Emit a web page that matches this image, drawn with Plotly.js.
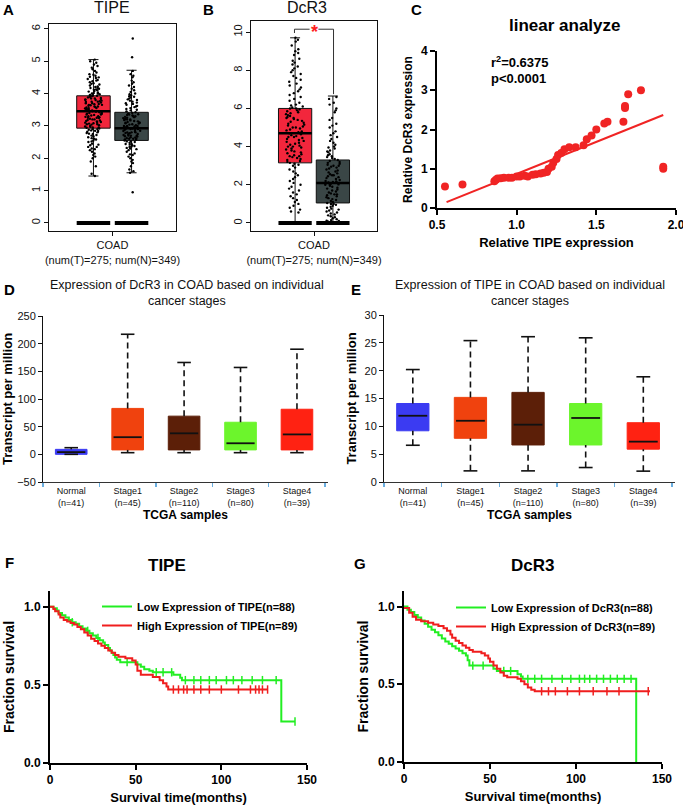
<!DOCTYPE html>
<html><head><meta charset="utf-8">
<script src="https://cdn.plot.ly/plotly-3.0.1.min.js"></script>
<style>html,body{margin:0;padding:0;background:#fff}#chart{width:683px;height:806px}</style>
</head><body><div id="chart"></div>
<script>
// ---------- DATA ----------
const coadCat = ['COAD'];
const coadLabel = ['COAD<br>(num(T)=275; num(N)=349)'];
// Panel A (TIPE) box stats [tumor, normal]
const aQ1 = [2.93, 2.55], aMed = [3.45, 2.93], aQ3 = [3.93, 3.42], aLo = [1.45, 1.55], aHi = [5.05, 4.72];
const aTumorPts = [1.45,1.52,1.9,2.05,2.1,2.2,2.25,2.3,2.35,2.4,2.45,2.5,2.52,2.55,2.6,2.62,2.65,2.7,2.72,2.75,2.78,2.8,2.82,2.85,2.88,2.9,2.92,2.95,2.97,3.0,3.02,3.05,3.07,3.1,3.12,3.15,3.17,3.2,3.22,3.25,3.27,3.3,3.32,3.35,3.37,3.4,3.42,3.45,3.47,3.5,3.52,3.55,3.57,3.6,3.62,3.65,3.67,3.7,3.72,3.75,3.78,3.8,3.83,3.85,3.88,3.9,3.93,3.96,4.0,4.03,4.06,4.1,4.13,4.17,4.2,4.25,4.3,4.35,4.4,4.45,4.5,4.55,4.6,4.7,4.8,4.9,5.0,5.05,3.1,3.3,3.5,3.7,2.9,3.6,3.8,4.0,3.4,3.2,
  2.15,2.28,2.42,2.58,2.68,2.76,2.84,2.86,2.94,2.98,3.04,3.08,3.14,3.18,3.24,3.28,3.34,3.38,3.44,3.48,3.54,3.58,3.64,3.68,3.74,3.76,3.82,3.86,3.92,3.94,3.98,4.02,4.08,4.12,4.18,4.22,4.28,4.32,4.38,4.42,4.48,4.52,4.58,4.65,4.75,4.85,4.95,1.75,2.0,2.35,3.55,3.65,3.85,4.15,3.25,3.35,3.05,2.95,3.75,3.95];
const aNormalPts = [0.95,1.55,1.6,1.75,1.85,1.95,2.0,2.05,2.1,2.15,2.2,2.25,2.3,2.32,2.35,2.38,2.4,2.42,2.45,2.48,2.5,2.52,2.55,2.57,2.6,2.62,2.65,2.67,2.7,2.72,2.75,2.77,2.8,2.82,2.85,2.87,2.9,2.92,2.95,2.97,3.0,3.02,3.05,3.07,3.1,3.12,3.15,3.17,3.2,3.22,3.25,3.27,3.3,3.32,3.35,3.38,3.4,3.45,3.5,3.55,3.6,3.65,3.7,3.75,3.8,3.85,3.9,3.95,4.0,4.1,4.2,4.3,4.4,4.55,4.7,5.12,5.7,2.8,2.9,3.0,3.1,3.2,2.6,2.7,
  1.65,1.9,2.12,2.28,2.36,2.44,2.52,2.58,2.64,2.68,2.74,2.78,2.84,2.88,2.94,2.98,3.04,3.08,3.14,3.18,3.24,3.28,3.34,3.36,3.42,3.48,3.52,3.58,3.62,3.68,3.72,3.78,3.82,3.88,3.92,3.98,4.05,4.15,4.25,4.35,4.5,4.6,2.9,3.0,3.1,2.8,3.2,2.7,3.3,2.6];
// Panel B (DcR3) box stats [tumor, normal]
const bQ1 = [3.15, 1.05], bMed = [4.7, 2.1], bQ3 = [6.0, 3.3], bLo = [0, 0], bHi = [9.7, 6.65];
const bTumorPts = [0.55,0.7,0.9,1.1,1.3,1.5,1.6,1.8,2.0,2.1,2.3,2.4,2.6,2.7,2.9,3.0,3.1,3.2,3.3,3.4,3.5,3.6,3.7,3.8,3.9,4.0,4.1,4.2,4.3,4.4,4.5,4.6,4.7,4.8,4.9,5.0,5.1,5.2,5.3,5.4,5.5,5.6,5.7,5.8,5.9,6.0,6.1,6.2,6.3,6.5,6.6,6.8,7.0,7.2,7.4,7.6,7.8,8.0,8.2,8.4,8.6,8.8,9.0,9.3,9.5,9.7,4.25,4.75,5.25,5.75,3.75,3.25,
  0.6,0.8,1.0,1.2,1.4,1.7,1.9,2.2,2.5,2.8,3.05,3.15,3.35,3.45,3.55,3.65,3.85,3.95,4.05,4.15,4.35,4.45,4.55,4.65,4.85,4.95,5.05,5.15,5.35,5.45,5.55,5.65,5.85,5.95,6.05,6.15,6.4,6.7,6.9,7.1,7.3,7.5,7.7,7.9,8.1,8.3,8.5,8.9,9.1,9.6,4.0,4.5,5.0,5.5,3.5,6.0];
const bNormalPts = [0.05,0.1,0.15,0.2,0.3,0.4,0.5,0.6,0.7,0.8,0.9,1.0,1.05,1.1,1.2,1.3,1.4,1.5,1.6,1.7,1.8,1.9,2.0,2.05,2.1,2.15,2.2,2.3,2.4,2.5,2.6,2.7,2.8,2.9,3.0,3.1,3.2,3.3,3.4,3.5,3.6,3.7,3.8,3.9,4.0,4.1,4.2,4.4,4.6,4.8,5.0,5.2,5.5,5.8,6.0,6.3,6.6,1.25,1.75,2.25,2.75,3.25,
  0.08,0.12,0.25,0.35,0.45,0.55,0.65,0.75,0.85,0.95,1.15,1.35,1.45,1.55,1.65,1.85,1.95,2.02,2.08,2.12,2.18,2.35,2.45,2.55,2.65,2.85,2.95,3.05,3.15,3.35,3.45,3.55,3.75,3.95,4.3,4.5,4.7,5.1,5.4,5.9,6.2,6.5,1.0,1.5,2.0,2.5,3.0];
// Panel C scatter
const cX = [0.55,0.66,0.86,0.87,0.88,0.9,0.92,0.95,0.97,1.0,1.02,1.05,1.07,1.1,1.12,1.15,1.17,1.19,1.2,1.22,1.23,1.25,1.26,1.28,1.3,1.33,1.37,1.42,1.44,1.47,1.5,1.55,1.57,1.67,1.68,1.68,1.7,1.78,1.92,1.92];
const cY = [0.55,0.6,0.68,0.72,0.75,0.76,0.77,0.77,0.77,0.8,0.8,0.82,0.8,0.85,0.86,0.88,0.9,0.92,1.0,1.05,1.15,1.25,1.35,1.4,1.5,1.55,1.55,1.6,1.75,1.85,2.0,2.15,2.2,2.2,2.55,2.6,2.9,3.0,1.0,1.05];
const cFitX = [0.56, 1.92], cFitY = [0.15, 2.37];
// Panels D/E stage boxes
const stages = ['Normal','Stage1','Stage2','Stage3','Stage4'];
const stageN = ['(n=41)','(n=45)','(n=110)','(n=80)','(n=39)'];
const dQ1 = [0, 8, 8, 8, 8], dMed = [4, 31, 38, 20, 36], dQ3 = [9, 83, 69, 58, 81.5], dLo = [0, 3, 3, 3, 3], dHi = [12, 217, 166, 157, 190];
const eQ1 = [9.2, 7.85, 6.65, 6.65, 5.9], eMed = [11.9, 11.0, 10.3, 11.5, 7.25], eQ3 = [14.1, 15.2, 16.1, 14.1, 10.65], eLo = [6.6, 2.0, 2.0, 2.6, 1.95], eHi = [20.2, 25.4, 26.1, 25.9, 18.9];
// Panel F KM (TIPE)
const fLowT = [0,2,4,5,7,9,11,13,15,17,19,21,23,25,27,29,31,32,34,35,36,37,38,39,41,51,53,55,58,60,72,76,77,135,143];
const fLowS = [1.0,0.99,0.975,0.96,0.945,0.93,0.915,0.9,0.89,0.875,0.86,0.845,0.83,0.815,0.8,0.785,0.77,0.755,0.735,0.72,0.705,0.69,0.675,0.66,0.645,0.63,0.615,0.6,0.59,0.58,0.565,0.545,0.53,0.265,0.265];
const fLowCens = [13,22,28,45,62,66,71,79,84,88,93,97,103,107,112,118,124,132,143];
const fHighT = [0,2,3,5,6,8,10,12,14,16,18,20,22,24,26,28,30,32,34,36,38,40,44,48,50,51,53,60,64,66,68,69,127];
const fHighS = [1.0,0.985,0.97,0.95,0.93,0.915,0.905,0.895,0.885,0.87,0.855,0.835,0.815,0.795,0.78,0.765,0.75,0.735,0.72,0.705,0.69,0.68,0.67,0.655,0.63,0.59,0.565,0.55,0.53,0.51,0.49,0.47,0.47];
const fHighCens = [72,75,78,80,84,88,93,100,110,117,120,122,124,127];
// Panel G KM (DcR3)
const gLowT = [0,2,4,6,8,10,12,14,16,18,20,22,24,26,28,30,32,34,36,37,38,52,54,66,68,69,135];
const gLowS = [1.0,0.98,0.965,0.945,0.93,0.91,0.89,0.87,0.85,0.835,0.815,0.795,0.775,0.76,0.745,0.73,0.715,0.70,0.685,0.655,0.62,0.60,0.585,0.565,0.55,0.535,0];
const gLowCens = [40,46,58,62,72,76,80,86,92,97,102,105,108,112,116,120,124,128,132];
const gHighT = [0,3,5,7,10,14,17,20,23,25,27,28,30,32,34,36,38,40,45,47,49,50,52,54,56,58,60,66,68,70,72,74,76,143];
const gHighS = [0.99,0.96,0.935,0.915,0.905,0.895,0.885,0.875,0.86,0.845,0.82,0.80,0.78,0.765,0.75,0.735,0.72,0.71,0.70,0.685,0.665,0.645,0.62,0.60,0.575,0.555,0.545,0.535,0.52,0.5,0.48,0.465,0.455,0.455];
const gHighCens = [80,84,88,95,102,110,118,125,142];

// ---------- STYLE ----------
const FONT = 'Liberation Sans, Arial, sans-serif';
const W = 683, H = 806;
const tumorColor = '#f2263c', normalColor = '#3a4646';
const stageColors = ['#3b3bf2','#f0420e','#5c1f08','#6cf52c','#ff2212'];
const kmGreen = '#22ee22', kmRed = '#f01e1e', cRed = '#f02424';
function dom(l, r, t, b) { return {x: [l / W, r / W], y: [1 - b / H, 1 - t / H]}; }
function P(x, y) { return {x: x / W, y: 1 - y / H}; }

const dA = dom(49,176,24,231), dB = dom(251,377,21,231), dC = dom(437,676,51,208);
const dD = dom(43,328,316,482), dE = dom(384,675,315,482);
const dF = dom(50,307,591,763), dG = dom(404,662,591,762);

const traces = [];
// ----- A / B: GEPIA-style boxes -----
function gepia(xa, ya, q1, med, q3, lo, hi, ptsT, ptsN) {
  const groups = ['T','N'], fills = [tumorColor, normalColor], pts = [ptsT, ptsN];
  for (let i = 0; i < 2; i++) {
    traces.push({type:'box', xaxis:xa, yaxis:ya, x:coadCat, q1:[q1[i]], median:[med[i]], q3:[q3[i]],
      lowerfence:[lo[i]], upperfence:[hi[i]], fillcolor:fills[i], line:{color:'#111', width:1},
      whiskerwidth:0.3, boxpoints:false, offsetgroup:groups[i], showlegend:false, hoverinfo:'skip'});
  }
  for (let i = 0; i < 2; i++) {
    traces.push({type:'box', xaxis:xa, yaxis:ya, x:pts[i].map(() => coadCat[0]), y:pts[i], boxpoints:'all',
      jitter:0.55, pointpos:0, marker:{color:'#000', size:2.4}, fillcolor:'rgba(0,0,0,0)',
      line:{color:'rgba(0,0,0,0)', width:0}, offsetgroup:groups[i], showlegend:false, hoverinfo:'skip'});
  }
  for (let i = 0; i < 2; i++) {
    traces.push({type:'box', xaxis:xa, yaxis:ya, x:coadCat, q1:[med[i]], median:[med[i]], q3:[med[i]],
      lowerfence:[med[i]], upperfence:[med[i]], line:{color:'#000', width:2.5}, fillcolor:'rgba(0,0,0,0)',
      boxpoints:false, offsetgroup:groups[i], showlegend:false, hoverinfo:'skip'});
    traces.push({type:'box', xaxis:xa, yaxis:ya, x:coadCat, q1:[0], median:[0], q3:[0],
      lowerfence:[0], upperfence:[0], line:{color:'#000', width:4}, fillcolor:'rgba(0,0,0,0)',
      boxpoints:false, offsetgroup:groups[i], showlegend:false, hoverinfo:'skip'});
  }
}
gepia('x','y', aQ1, aMed, aQ3, aLo, aHi, aTumorPts, aNormalPts);
gepia('x2','y2', bQ1, bMed, bQ3, bLo, bHi, bTumorPts, bNormalPts);

// ----- C -----
traces.push({type:'scatter', mode:'markers', xaxis:'x3', yaxis:'y3', x:cX, y:cY,
  marker:{color:cRed, size:8}, showlegend:false, hoverinfo:'skip'});
traces.push({type:'scatter', mode:'lines', xaxis:'x3', yaxis:'y3', x:cFitX, y:cFitY,
  line:{color:cRed, width:2}, showlegend:false, hoverinfo:'skip'});

// ----- D / E -----
function stageBoxes(xa, ya, q1, med, q3, lo, hi) {
  const idx = stages.map((s, i) => i);
  traces.push({type:'bar', xaxis:xa, yaxis:ya, x:idx, base:q1, y:q3.map((v, i) => v - q1[i]), width:0.56,
    marker:{color:stageColors, line:{color:stageColors, width:1}}, showlegend:false, hoverinfo:'skip'});
  const wx = [], wy = [], cx = [], cy = [], mx = [], my = [];
  idx.forEach(i => {
    wx.push(i, i, null, i, i, null); wy.push(q3[i], hi[i], null, lo[i], q1[i], null);
    cx.push(i - 0.12, i + 0.12, null, i - 0.12, i + 0.12, null); cy.push(hi[i], hi[i], null, lo[i], lo[i], null);
    mx.push(i - 0.25, i + 0.25, null); my.push(med[i], med[i], null);
  });
  traces.push({type:'scatter', mode:'lines', xaxis:xa, yaxis:ya, x:wx, y:wy, line:{color:'#111', width:1.6, dash:'6px,4px'}, showlegend:false, hoverinfo:'skip'});
  traces.push({type:'scatter', mode:'lines', xaxis:xa, yaxis:ya, x:cx, y:cy, line:{color:'#111', width:1.6}, showlegend:false, hoverinfo:'skip'});
  traces.push({type:'scatter', mode:'lines', xaxis:xa, yaxis:ya, x:mx, y:my, line:{color:'#111', width:1.8}, showlegend:false, hoverinfo:'skip'});
}
stageBoxes('x4','y4', dQ1, dMed, dQ3, dLo, dHi);
stageBoxes('x5','y5', eQ1, eMed, eQ3, eLo, eHi);

// ----- F / G KM -----
function survAt(ts, ss, t) { let v = ss[0]; for (let i = 0; i < ts.length; i++) if (ts[i] <= t) v = ss[i]; return v; }
function km(xa, ya, ts, ss, cens, color, name, leg) {
  traces.push({type:'scatter', mode:'lines', xaxis:xa, yaxis:ya, x:ts, y:ss, line:{color:color, width:2, shape:'hv'},
    name:name, legend:leg, hoverinfo:'skip'});
  traces.push({type:'scatter', mode:'markers', xaxis:xa, yaxis:ya, x:cens, y:cens.map(t => survAt(ts, ss, t)),
    marker:{symbol:'line-ns-open', size:6, color:color, line:{color:color, width:1.5}}, showlegend:false, legend:leg, hoverinfo:'skip'});
}
km('x6','y6', fLowT, fLowS, fLowCens, kmGreen, 'Low Expression of TIPE(n=88)', 'legend');
km('x6','y6', fHighT, fHighS, fHighCens, kmRed, 'High Expression of TIPE(n=89)', 'legend');
km('x7','y7', gLowT, gLowS, gLowCens, kmGreen, 'Low Expression of DcR3(n=88)', 'legend2');
km('x7','y7', gHighT, gHighS, gHighCens, kmRed, 'High Expression of DcR3(n=89)', 'legend2');

// ---------- LAYOUT ----------
const boldF = (s) => ({family:FONT, size:s, color:'#000', weight:'bold'});
const regF = (s) => ({family:FONT, size:s, color:'#111'});
function gepX(d, anchor) { return {domain:d.x, anchor:anchor, type:'category', range:[-0.5, 0.5], tickvals:coadCat, ticktext:coadLabel,
  showline:true, mirror:true, linecolor:'#111', linewidth:1, ticks:'outside', ticklen:4, tickcolor:'#111', tickfont:regF(11), showgrid:false, zeroline:false, fixedrange:true}; }
function gepY(d, anchor, range, vals) { return {domain:d.y, anchor:anchor, range:range, tickvals:vals, tickangle:-90,
  showline:true, mirror:true, linecolor:'#111', linewidth:1, ticks:'outside', ticklen:4, tickcolor:'#111', tickfont:regF(11), showgrid:false, zeroline:false}; }
function gpX(d, anchor, range, vals, fmt, title) { return {domain:d.x, anchor:anchor, range:range, tickvals:vals, tickformat:fmt,
  showline:true, linecolor:'#000', linewidth:2, ticks:'outside', ticklen:5, tickwidth:2, tickcolor:'#000', tickfont:boldF(12),
  ticklabeloverflow:'allow', showgrid:false, zeroline:false, title:{text:title, font:boldF(13), standoff:6}}; }
function gpY(d, anchor, range, vals, fmt, title, sz) { return {domain:d.y, anchor:anchor, range:range, tickvals:vals, tickformat:fmt,
  showline:true, linecolor:'#000', linewidth:2, ticks:'outside', ticklen:5, tickwidth:2, tickcolor:'#000', tickfont:boldF(12),
  ticklabeloverflow:'allow', showgrid:false, zeroline:false, title:{text:title, font:boldF(sz), standoff:6}}; }
function stX(d, anchor) { return {domain:d.x, anchor:anchor, range:[-0.5, 4.55], tickvals:stages.map((s, i) => i),
  ticktext:stages.map((s, i) => s + '<br>' + stageN[i]), ticks:'', tickfont:regF(9), showline:true, linecolor:'#333', linewidth:1,
  minor:{tick0:-0.5, dtick:1, ticks:'outside', ticklen:4, tickcolor:'#6aaee0', tickwidth:1.5},
  showgrid:false, zeroline:false, title:{text:'TCGA samples', font:boldF(12), standoff:4}}; }
function stY(d, anchor, range, dt) { return {domain:d.y, anchor:anchor, range:range, dtick:dt, showline:true, linecolor:'#111', linewidth:1,
  ticks:'outside', ticklen:4, tickcolor:'#111', tickfont:regF(11), showgrid:false, zeroline:false,
  title:{text:'Transcript per million', font:boldF(13), standoff:4}}; }

const ann = [];
function txt(text, x, y, font, extra) { const p = P(x, y); ann.push(Object.assign({text:text, xref:'paper', yref:'paper', x:p.x, y:p.y, showarrow:false, font:font, xanchor:'center', yanchor:'middle'}, extra || {})); }
txt('A', 8, 9, boldF(15)); txt('B', 208, 9, boldF(15)); txt('C', 416, 9, boldF(15));
txt('D', 9, 290, boldF(15)); txt('E', 356, 289, boldF(15)); txt('F', 9, 562, boldF(15)); txt('G', 360, 563, boldF(15));
txt('TIPE', 112, 8, regF(16)); txt('DcR3', 307, 8, regF(16));
txt('linear analyze', 565, 25, boldF(17));
txt('Expression of DcR3 in COAD based on individual<br>cancer stages', 187, 293, regF(12.5));
txt('Expression of TIPE in COAD based on individual<br>cancer stages', 530, 293, regF(12.5));
txt('TIPE', 167, 565, boldF(17)); txt('DcR3', 532, 565, boldF(17));
txt('r<sup>2</sup>=0.6375', 489, 62, boldF(13), {xanchor:'left'});
txt('p<0.0001', 489, 78, boldF(13), {xanchor:'left'});
ann.push({text:'*', xref:'x2', yref:'y2', x:0, y:10.0, showarrow:false, font:{family:FONT, size:18, color:'#ff2020', weight:'bold'}, yanchor:'middle'});

const shp = [];
const brY = 10.15;
[[-0.155, 9.95, -0.155, brY], [-0.155, brY, -0.035, brY], [0.035, brY, 0.155, brY], [0.155, brY, 0.155, 6.75]].forEach(s => {
  shp.push({type:'line', xref:'x2', yref:'y2', x0:s[0], y0:s[1], x1:s[2], y1:s[3], line:{color:'#333', width:1}});
});

const layout = {
  width:W, height:H, margin:{l:0, r:0, t:0, b:0}, paper_bgcolor:'#fff', plot_bgcolor:'rgba(0,0,0,0)',
  font:{family:FONT, color:'#000'}, boxmode:'group', boxgap:0.4, boxgroupgap:0.12, bargap:0,
  xaxis:gepX(dA, 'y'), yaxis:gepY(dA, 'x', [-0.25, 6.15], [0,1,2,3,4,5,6]),
  xaxis2:gepX(dB, 'y2'), yaxis2:gepY(dB, 'x2', [-0.42, 10.58], [0,2,4,6,8,10]),
  xaxis3:gpX(dC, 'y3', [0.5, 2.0], [0.5, 1.0, 1.5, 2.0], '.1f', 'Relative TIPE expression'),
  yaxis3:gpY(dC, 'x3', [0, 4], [0,1,2,3,4], 'd', 'Relative DcR3 expression', 12),
  xaxis4:stX(dD, 'y4'), yaxis4:stY(dD, 'x4', [-50, 250], 50),
  xaxis5:stX(dE, 'y5'), yaxis5:stY(dE, 'x5', [0, 30], 5),
  xaxis6:gpX(dF, 'y6', [0, 150], [0, 50, 100, 150], 'd', 'Survival time(months)'),
  yaxis6:gpY(dF, 'x6', [0, 1.1], [0, 0.5, 1.0], '.1f', 'Fraction survival', 14),
  xaxis7:gpX(dG, 'y7', [0, 150], [0, 50, 100, 150], 'd', 'Survival time(months)'),
  yaxis7:gpY(dG, 'x7', [0, 1.1], [0, 0.5, 1.0], '.1f', 'Fraction survival', 14),
  legend:{x:97 / W, y:1 - 592 / H, xanchor:'left', yanchor:'top', bgcolor:'rgba(0,0,0,0)', font:boldF(11), tracegroupgap:0, itemwidth:30},
  legend2:{x:451 / W, y:1 - 593 / H, xanchor:'left', yanchor:'top', bgcolor:'rgba(0,0,0,0)', font:boldF(11), tracegroupgap:0, itemwidth:30},
  annotations:ann, shapes:shp
};
Plotly.newPlot('chart', traces, layout, {staticPlot:true, displayModeBar:false});
</script></body></html>
